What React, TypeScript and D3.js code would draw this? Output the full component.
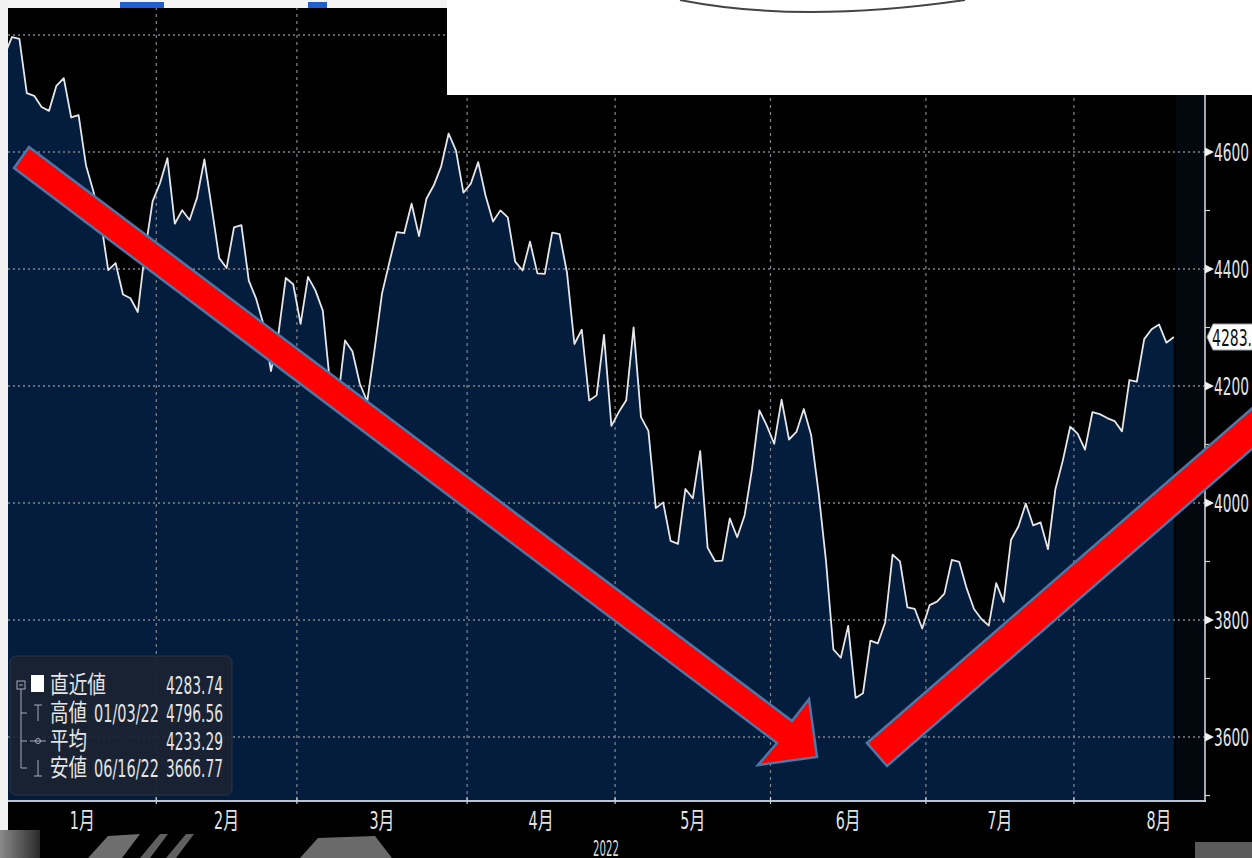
import React from "react";
import * as d3 from "d3";

// S&P 500 daily closes, 2022 (Bloomberg-style chart)
const prevClose = [4766.18];
const jan = [4796.56, 4793.54, 4700.58, 4696.05, 4677.03, 4670.29, 4713.07, 4726.35, 4659.03, 4662.85, 4577.11, 4532.76, 4482.73, 4397.94, 4410.13, 4356.45, 4349.93, 4326.51, 4431.85, 4515.55];
const feb = [4546.54, 4589.38, 4477.44, 4500.53, 4483.87, 4521.54, 4587.18, 4504.08, 4418.64, 4401.67, 4471.07, 4475.01, 4380.26, 4348.87, 4304.76, 4225.5, 4288.7, 4384.65, 4373.94];
const mar = [4306.26, 4386.54, 4363.49, 4328.87, 4201.09, 4170.7, 4277.88, 4259.52, 4204.31, 4173.11, 4262.45, 4357.86, 4411.67, 4463.12, 4461.18, 4511.61, 4456.24, 4520.16, 4543.06, 4575.52, 4631.6, 4602.45, 4530.41];
const apr = [4545.86, 4582.64, 4525.12, 4481.15, 4500.21, 4488.28, 4412.53, 4397.45, 4446.59, 4392.59, 4391.69, 4462.21, 4459.45, 4393.66, 4271.78, 4296.12, 4175.2, 4183.96, 4287.5, 4131.93];
const may = [4155.38, 4175.48, 4300.17, 4146.87, 4123.34, 3991.24, 4001.05, 3935.18, 3930.08, 4023.89, 4008.01, 4088.85, 3923.68, 3900.79, 3901.36, 3973.75, 3941.48, 3978.73, 4057.84, 4158.24, 4132.15];
const jun = [4101.23, 4176.82, 4108.54, 4121.43, 4160.68, 4115.77, 4017.82, 3900.86, 3749.63, 3735.48, 3789.99, 3666.77, 3674.84, 3764.79, 3759.89, 3795.73, 3911.74, 3900.11, 3821.55, 3818.83, 3785.38];
const jul = [3825.33, 3831.39, 3845.08, 3902.62, 3899.38, 3854.43, 3818.8, 3801.78, 3790.38, 3863.16, 3830.85, 3936.69, 3959.9, 3998.95, 3961.63, 3966.84, 3921.05, 4023.61, 4072.43, 4130.29];
const aug = [4118.63, 4091.19, 4155.17, 4151.94, 4145.19, 4140.06, 4122.47, 4210.24, 4207.27, 4280.15, 4297.14, 4305.2, 4274.04, 4283.74];

const monthLabels = ["1月", "2月", "3月", "4月", "5月", "6月", "7月", "8月"];
const monthTradingDays = [20, 19, 23, 20, 21, 21, 20, 23];
const yTicks = [3600, 3800, 4000, 4200, 4400, 4600];
const yGrid = [3600, 3800, 4000, 4200, 4400, 4600, 4800];
const yMinor = [3500, 3700, 3900, 4100, 4300, 4500, 4700];
const yearLabel = "2022";
const lastLabel = "4283.";

const legendRows = [
  { name: "直近値", date: "", value: "4283.74" },
  { name: "高値", date: "01/03/22", value: "4796.56" },
  { name: "平均", date: "", value: "4233.29" },
  { name: "安値", date: "06/16/22", value: "3666.77" },
];

const FONT = "'DejaVu Sans Condensed', 'DejaVu Sans', 'Noto Sans CJK JP', sans-serif";

export default function App() {
  const W = 1252, H = 858;
  const plotL = 8, plotR = 1205, plotB = 800;
  const series = [...jan, ...feb, ...mar, ...apr, ...may, ...jun, ...jul, ...aug];
  const data = [{ i: -1, v: prevClose[0] }, ...series.map((v, i) => ({ i, v }))];
  const x = d3.scaleLinear().domain([0, 157]).range([12, 12 + 157 * 7.4]);
  const y = d3.scaleLinear().domain([3600, 4600]).range([737, 152]);

  const area = d3.area<{ i: number; v: number }>().x((d) => x(d.i)).y0(plotB).y1((d) => y(d.v));
  const line = d3.line<{ i: number; v: number }>().x((d) => x(d.i)).y((d) => y(d.v));

  const cum: number[] = [];
  let acc = 0;
  monthTradingDays.forEach((n) => { cum.push(acc); acc += n; });
  const tickIdx = cum.slice(1).map((c) => c - 0.5);
  const labelIdx = cum.map((c, k) => c - 0.5 + monthTradingDays[k] / 2);
  const lastX = x(series.length - 1);
  const lastY = y(series[series.length - 1]);

  // arrows
  const a1 = "29,147 792,721 809,699 817,757 758,765 777,743 14,168";
  const a2 = `867,743 ${867 + 0.755 * 700},${743 - 0.656 * 700} ${887 + 0.755 * 700},${766 - 0.656 * 700} 887,766`;

  const rowY = [685, 713, 741, 768];
  const txt = "#e4e4e4";

  return (
    <svg width={W} height={H} style={{ position: "absolute", left: 0, top: 0, display: "block" }}>
      <defs>
        <clipPath id="plot"><rect x={plotL} y={0} width={plotR - plotL} height={plotB} /></clipPath>
        <linearGradient id="gr" x1="0" x2="1" y1="0" y2="0">
          <stop offset="0" stopColor="#8a8a8a" />
          <stop offset="1" stopColor="#2a2a2a" />
        </linearGradient>
      </defs>
      <rect x={0} y={0} width={W} height={H} fill="#000" />
      <g clipPath="url(#plot)">
        <path d={area(data) || ""} fill="#051d3d" />
        <rect x={lastX + 2} y={0} width={plotR - lastX - 2} height={plotB} fill="#03080f" />
        {yGrid.map((t) => (
          <line key={t} x1={plotL} x2={plotR} y1={y(t)} y2={y(t)} stroke="#80868e" strokeWidth={1.5} strokeDasharray="2,3" />
        ))}
        {tickIdx.map((t) => (
          <line key={t} x1={x(t)} x2={x(t)} y1={0} y2={plotB} stroke="#80868e" strokeWidth={1.2} strokeDasharray="3,4" />
        ))}
        <path d={line(data) || ""} fill="none" stroke="#e4e6ea" strokeWidth={1.8} strokeLinejoin="round" />
      </g>

      {/* axes */}
      <line x1={plotL} x2={plotR + 1} y1={plotB + 1} y2={plotB + 1} stroke="#b8c4d2" strokeWidth={2.2} />
      <line x1={plotR} x2={plotR} y1={90} y2={plotB + 2} stroke="#cfd3d8" strokeWidth={1.6} />
      {tickIdx.map((t) => (
        <line key={"bt" + t} x1={x(t)} x2={x(t)} y1={plotB - 3} y2={plotB + 4} stroke="#d0d0d0" strokeWidth={1.2} />
      ))}
      {yMinor.map((t) => (
        <line key={"m" + t} x1={plotR} x2={plotR + 5} y1={y(t)} y2={y(t)} stroke="#d0d0d0" strokeWidth={1.2} />
      ))}
      {yTicks.map((t) => (
        <g key={"yt" + t}>
          <path d={`M${plotR},${y(t) - 4.5} L${plotR + 9},${y(t)} L${plotR},${y(t) + 4.5} Z`} fill="#f0f0f0" />
          <text x={1214} y={y(t) + 1} dominantBaseline="central" fill={txt} fontFamily={FONT} fontSize={24} textLength={35} lengthAdjust="spacingAndGlyphs">{t}</text>
        </g>
      ))}
      <path d={`M${plotR + 2},${lastY} L${plotR + 8},${lastY - 13} L${W + 5},${lastY - 13} L${W + 5},${lastY + 13} L${plotR + 8},${lastY + 13} Z`} fill="#ffffff" stroke="#9aa0a8" strokeWidth={1} />
      <text x={1212} y={lastY + 1} dominantBaseline="central" fill="#111" fontFamily={FONT} fontSize={23} textLength={40} lengthAdjust="spacingAndGlyphs">{lastLabel}</text>

      {monthLabels.map((m, k) => (
        <text key={m} x={x(labelIdx[k])} y={821} textAnchor="middle" dominantBaseline="central" fill={txt} fontFamily={FONT} fontSize={24} textLength={25} lengthAdjust="spacingAndGlyphs">{m}</text>
      ))}
      <text x={606} y={848} textAnchor="middle" dominantBaseline="central" fill="#d8d8d8" fontFamily={FONT} fontSize={22} textLength={26} lengthAdjust="spacingAndGlyphs">{yearLabel}</text>

      {/* legend */}
      <g>
        <rect x={10} y={656} width={222} height={139} rx={6} fill="#1a2231" fillOpacity={0.93} stroke="#2a3445" />
        <rect x={17} y={681} width={8} height={8} fill="none" stroke="#aab" strokeWidth={1} />
        <line x1={19} x2={23} y1={685} y2={685} stroke="#aab" />
        <line x1={21} x2={21} y1={689} y2={rowY[3]} stroke="#aab" />
        {rowY.slice(1).map((ry) => (<line key={ry} x1={21} x2={27} y1={ry} y2={ry} stroke="#aab" />))}
        <rect x={31} y={675} width={13} height={17} fill="#fff" />
        <path d={`M34,${rowY[1] - 8} H42 M38,${rowY[1] - 8} V${rowY[1] + 8}`} stroke="#aab" fill="none" />
        <line x1={30} x2={46} y1={rowY[2]} y2={rowY[2]} stroke="#aab" />
        <circle cx={38} cy={rowY[2]} r={2.5} fill="none" stroke="#aab" />
        <path d={`M38,${rowY[3] - 8} V${rowY[3] + 8} M34,${rowY[3] + 8} H42`} stroke="#aab" fill="none" />
        {legendRows.map((r, k) => (
          <g key={r.name}>
            <text x={50} y={rowY[k]} dominantBaseline="central" fill={txt} fontFamily={FONT} fontSize={24} textLength={r.name.length === 3 ? 56 : 37} lengthAdjust="spacingAndGlyphs">{r.name}</text>
            {r.date ? (
              <text x={94} y={rowY[k] + 1} dominantBaseline="central" fill={txt} fontFamily={FONT} fontSize={24} textLength={65} lengthAdjust="spacingAndGlyphs">{r.date}</text>
            ) : null}
            <text x={166} y={rowY[k] + 1} dominantBaseline="central" fill={txt} fontFamily={FONT} fontSize={24} textLength={57} lengthAdjust="spacingAndGlyphs">{r.value}</text>
          </g>
        ))}
      </g>

      {/* red arrows */}
      <polygon points={a1} fill="#ff0000" stroke="#4a78a8" strokeWidth={2.5} strokeLinejoin="miter" />
      <polygon points={a2} fill="#ff0000" stroke="#4a78a8" strokeWidth={2.5} />

      {/* surrounding slide artifacts */}
      <rect x={447} y={0} width={W - 447} height={95} fill="#ffffff" />
      <path d="M680,0 Q800,24 965,0" fill="none" stroke="#444" strokeWidth={2} />
      <rect x={0} y={0} width={447} height={8} fill="#f4f4f4" />
      <rect x={120} y={2} width={44} height={6} fill="#1f5fd0" />
      <rect x={308} y={2} width={19} height={6} fill="#1f5fd0" />
      <rect x={0} y={0} width={8} height={830} fill="#f2f2f2" />
      <rect x={0} y={830} width={40} height={28} fill="url(#gr)" />
      <polygon points="88,858 108,836 140,834 122,858" fill="#6e6e6e" />
      <polygon points="140,858 160,834 168,834 150,858" fill="#606060" />
      <polygon points="166,858 186,834 194,834 176,858" fill="#606060" />
      <polygon points="300,858 318,838 375,836 392,858" fill="#6a6a6a" />
      <rect x={1195} y={842} width={57} height={16} fill="#5a5a5a" />
    </svg>
  );
}
